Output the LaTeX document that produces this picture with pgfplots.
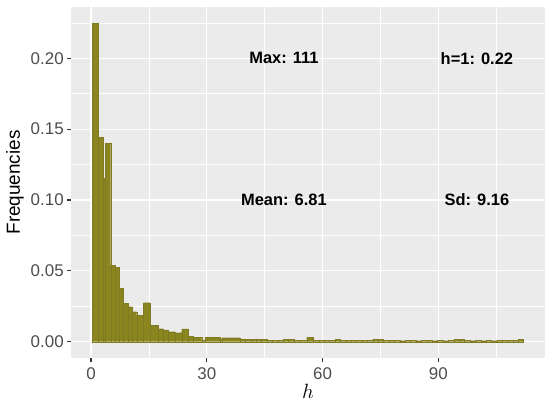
\documentclass[border=0pt]{standalone}
\usepackage{pgfplots}
\pgfplotsset{compat=1.18}
\usepackage{fontspec}
\setmainfont{Liberation Sans}
\definecolor{panel}{HTML}{EBEBEB}
\definecolor{barfill}{RGB}{139,133,32}
\definecolor{bardraw}{RGB}{128,122,36}
\definecolor{ticklab}{HTML}{4D4D4D}
\definecolor{tickcol}{HTML}{333333}
\begin{document}
\begin{tikzpicture}[x=1bp,y=1bp]
\path[use as bounding box] (0,0) rectangle (550,404);
\begin{axis}[
  at={(71.2bp,46.4bp)}, anchor=south west, scale only axis,
  width=473.6bp, height=350.3bp,
  xmin=-5.13, xmax=117.6, ymin=-0.01122, ymax=0.236,
  axis background/.style={fill=panel},
  axis line style={draw=none},
  xtick={0,30,60,90}, minor xtick={15,45,75,105},
  ytick={0,0.05,0.1,0.15,0.2}, minor ytick={0.025,0.075,0.125,0.175,0.225},
  yticklabel style={/pgf/number format/.cd, fixed, fixed zerofill, precision=2},
  xticklabel style={yshift=-3bp},
  grid=both,
  major grid style={white, line width=1.1bp},
  minor grid style={white, line width=0.55bp},
  tick style={tickcol, line width=1.1bp},
  major tick length=4bp, minor tick length=0pt, tick align=outside,
  xtick pos=bottom, ytick pos=left,
  ticklabel style={font=\fontsize{17}{17}\selectfont, text=ticklab},
  /pgf/number format/assume math mode=true,
  xlabel={$h$}, ylabel={Frequencies},
  xlabel style={at={(axis description cs:0.5,-0.0968)}, anchor=center, font=\fontsize{22}{22}\selectfont},
  ylabel style={at={(axis description cs:-0.1187,0.5)}, anchor=center, font=\fontsize{19}{19}\selectfont},
]
\addplot[ybar interval, fill=barfill, draw=bardraw, line width=0.25bp] coordinates {
(0.39,0.2247) (1.81,0.1443) (3.11,0.1153) (3.71,0.1400) (5.10,0.0540)
(6.22,0.0525) (7.39,0.0379) (8.37,0.0271) (9.54,0.0247) (10.70,0.0212)
(11.84,0.0188) (13.55,0.0275) (15.29,0.0115) (17.44,0.0092) (18.74,0.0083)
(20.03,0.0071) (21.77,0.0064) (23.50,0.0090) (25.21,0.0040) (26.51,0.0031)
(28.69,0.0012) (29.54,0.0030) (33.43,0.0015) (33.87,0.0028) (38.6,0.0020)
(40.0,0.0017) (41.4,0.0017) (42.8,0.0015) (44.2,0.0017) (45.6,0.0012)
(47.0,0.0012) (48.4,0.0010) (49.8,0.0017) (51.2,0.0015) (52.6,0.0010)
(54.0,0.0008) (55.9,0.0030) (57.6,0.0010) (59.0,0.0008) (60.4,0.0012)
(61.8,0.0010) (63.2,0.0015) (64.6,0.0010) (66.0,0.0012) (67.4,0.0008)
(68.8,0.0010) (70.2,0.0012) (71.6,0.0010) (73.0,0.0018) (74.4,0.0018)
(75.8,0.0010) (77.2,0.0008) (78.6,0.0010) (80.0,0.0007) (81.4,0.0008)
(82.8,0.0010) (84.2,0.0007) (85.6,0.0008) (87.0,0.0010) (88.4,0.0007)
(89.8,0.0008) (91.2,0.0007) (92.6,0.0008) (94.0,0.0015) (95.4,0.0015)
(96.8,0.0008) (98.2,0.0007) (99.6,0.0008) (101.0,0.0007) (102.4,0.0008)
(103.8,0.0007) (105.2,0.0010) (106.6,0.0012) (108.0,0.0010) (109.4,0.0008)
(110.8,0.0015) (112.0,0)
};
\node[font=\bfseries\fontsize{16.5}{16.5}\selectfont] at (axis cs:50,0.2) {Max: 111};
\node[font=\bfseries\fontsize{16.5}{16.5}\selectfont] at (axis cs:100,0.2) {h=1: 0.22};
\node[font=\bfseries\fontsize{16.5}{16.5}\selectfont] at (axis cs:50,0.1) {Mean: 6.81};
\node[font=\bfseries\fontsize{16.5}{16.5}\selectfont] at (axis cs:100,0.1) {Sd: 9.16};
\end{axis}
\end{tikzpicture}
\end{document}
